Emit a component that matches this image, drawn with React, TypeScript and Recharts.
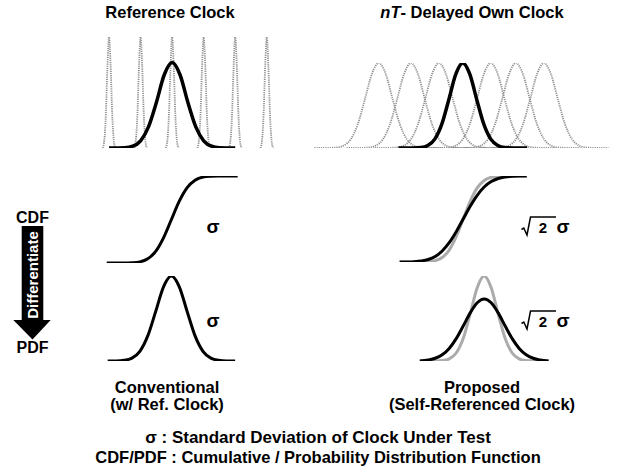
import React from 'react';
import { LineChart, Line, XAxis, YAxis } from 'recharts';

// ---------- data (time in clock periods, levels normalised) ----------
// Reference clock: very narrow edge distributions
const refEdges = [-2, -1, 0, 1, 2, 3];
const spikeOffsets = [-0.2, -0.15, -0.1, -0.05, 0, 0.05, 0.1, 0.15, 0.2];
const spikeLevels = [0, 0.07, 0.31, 0.74, 1, 0.74, 0.31, 0.07, 0];

// Clock under test edge distribution (top-left)
const cutOffsets = [-2, -1.5, -1.25, -1, -0.75, -0.5, -0.25, 0, 0.25, 0.5, 0.75, 1, 1.25, 1.5, 2];
const cutLevels = [0, 0.003, 0.016, 0.065, 0.19, 0.41, 0.66, 0.77, 0.66, 0.41, 0.19, 0.065, 0.016, 0.003, 0];

// nT-delayed own clock edges (top-right)
const ownEdges = [-3, -1.85, -0.85, 1, 1.9, 2.9];
const ownOffsets = [-2.3, -2, -1.5, -1.25, -1, -0.75, -0.5, -0.25, 0, 0.25, 0.5, 0.75, 1, 1.25, 1.5, 2, 2.3];
const ownLevels = [0, 0, 0.006, 0.029, 0.104, 0.28, 0.568, 0.868, 1, 0.868, 0.568, 0.28, 0.104, 0.029, 0.006, 0, 0];

// Conventional CDF / PDF
const convCdfT = [-2.05, -1.5, -1.25, -1, -0.75, -0.5, -0.25, 0, 0.25, 0.5, 0.75, 1, 1.25, 1.5, 2.1];
const convCdf = [0, 0, 0.003, 0.013, 0.048, 0.133, 0.289, 0.5, 0.711, 0.867, 0.952, 0.987, 0.997, 1, 1];
const convPdfT = [-2.02, -1.75, -1.5, -1.25, -1, -0.75, -0.5, -0.25, 0, 0.25, 0.5, 0.75, 1, 1.25, 1.5, 1.75, 2.02];
const convPdf = [0, 0.001, 0.008, 0.034, 0.114, 0.295, 0.581, 0.873, 1, 0.873, 0.581, 0.295, 0.114, 0.034, 0.008, 0.001, 0];

// Proposed CDF (black: sqrt2 sigma, gray: sigma)
const propCdfT = [-2.27, -2, -1.75, -1.5, -1.25, -1, -0.75, -0.5, -0.25, 0, 0.25, 0.5, 0.75, 1, 1.25, 1.5, 1.75, 2, 2.27];
const propCdfWide = [0, 0.001, 0.004, 0.012, 0.029, 0.065, 0.128, 0.224, 0.352, 0.5, 0.648, 0.776, 0.872, 0.935, 0.971, 0.988, 0.996, 0.999, 1];
const propCdfNarrow = [0, 0, 0, 0, 0.003, 0.015, 0.052, 0.139, 0.294, 0.5, 0.706, 0.861, 0.948, 0.985, 0.997, 1, 1, 1, 1];

// Proposed PDF
const propPdfT = [-2.3, -2, -1.75, -1.5, -1.25, -1, -0.75, -0.5, -0.25, 0, 0.25, 0.5, 0.75, 1, 1.25, 1.5, 1.75, 2, 2.3];
const propPdfWide = [0, 0.012, 0.032, 0.073, 0.148, 0.263, 0.411, 0.566, 0.685, 0.73, 0.685, 0.566, 0.411, 0.263, 0.148, 0.073, 0.032, 0.012, 0];
const propPdfNarrow = [0, 0, 0, 0.005, 0.025, 0.094, 0.265, 0.554, 0.863, 1, 0.863, 0.554, 0.265, 0.094, 0.025, 0.005, 0, 0, 0];

// ---------- helpers ----------
type Pt = { x: number; y: number };
const pts = (center: number, xs: number[], ys: number[]): Pt[] =>
  xs.map((v, i) => ({ x: center + v, y: ys[i] }));

const M = 6;
const FONT = '"Liberation Sans", Arial, Helvetica, sans-serif';

function Panel(props: {
  origin: number;
  unit: number;
  domain: [number, number];
  yTop: number;
  yBottom: number;
  children: React.ReactNode;
}) {
  const { origin, unit, domain, yTop, yBottom, children } = props;
  const left = origin + domain[0] * unit;
  const w = (domain[1] - domain[0]) * unit;
  const h = yBottom - yTop;
  return (
    <div style={{ position: 'absolute', left: left - M, top: yTop - M }}>
      <LineChart width={w + 2 * M} height={h + 2 * M} margin={{ top: M, right: M, bottom: M, left: M }}>
        <XAxis type="number" dataKey="x" domain={domain} hide allowDataOverflow />
        <YAxis type="number" domain={[0, 1]} hide allowDataOverflow />
        {children}
      </LineChart>
    </div>
  );
}

const line = (key: string, data: Pt[], stroke: string, width: number, dash?: string) => (
  <Line
    key={key}
    data={data}
    dataKey="y"
    type="monotone"
    stroke={stroke}
    strokeWidth={width}
    strokeDasharray={dash}
    strokeLinecap="butt"
    dot={false}
    activeDot={false}
    isAnimationActive={false}
    legendType="none"
  />
);

const GRAY_DOT = '#8f8f8f';
const GRAY = '#ababab';

function SqrtTwoSigma({ cy }: { cy: number }) {
  return (
    <g>
      <path
        d={`M521.5 ${cy + 1.5} L523.8 ${cy} L527 ${cy + 7} L530.5 ${cy - 11} L556 ${cy - 11}`}
        fill="none"
        stroke="#000"
        strokeWidth={1.5}
        strokeLinejoin="miter"
      />
      <text x={543} y={cy + 5} fontSize={15} textAnchor="middle">2</text>
      <text x={563} y={cy + 5} fontSize={19} textAnchor="middle">σ</text>
    </g>
  );
}

export default function App() {
  const leftUnit = 31.55;
  const leftOrigin = 171.7;
  const rightUnit = 28;
  const rightOrigin = 463;

  return (
    <div style={{ position: 'absolute', left: 0, top: 0, width: 622, height: 472, background: '#fff', overflow: 'hidden' }}>
      {/* Top-left: reference clock */}
      <Panel origin={leftOrigin} unit={leftUnit} domain={[-2.35, 3.35]} yTop={37} yBottom={148}>
        {refEdges.map((e, i) => line('ref' + i, pts(e, spikeOffsets, spikeLevels), GRAY_DOT, 1.8, '1.2 1'))}
        {line('cut', pts(0, cutOffsets, cutLevels), '#000', 3.5)}
      </Panel>

      {/* Top-right: nT-delayed own clock */}
      <Panel origin={rightOrigin} unit={rightUnit} domain={[-5.6, 5.5]} yTop={63} yBottom={148}>
        {ownEdges.map((e, i) => line('own' + i, pts(e, ownOffsets, ownLevels), GRAY_DOT, 1.8, '1.2 1'))}
        {line('ownMain', pts(0, ownOffsets, ownLevels), '#000', 3.5)}
      </Panel>

      {/* Conventional CDF */}
      <Panel origin={leftOrigin} unit={leftUnit} domain={[-2.2, 2.2]} yTop={176} yBottom={263}>
        {line('convCdf', pts(0, convCdfT, convCdf), '#000', 3)}
      </Panel>

      {/* Conventional PDF */}
      <Panel origin={leftOrigin} unit={leftUnit} domain={[-2.2, 2.2]} yTop={276} yBottom={361}>
        {line('convPdf', pts(0, convPdfT, convPdf), '#000', 3)}
      </Panel>

      {/* Proposed CDF */}
      <Panel origin={rightOrigin} unit={rightUnit} domain={[-2.4, 2.4]} yTop={176} yBottom={262}>
        {line('propCdfN', pts(0, propCdfT, propCdfNarrow), GRAY, 3)}
        {line('propCdfW', pts(0, propCdfT, propCdfWide), '#000', 3)}
      </Panel>

      {/* Proposed PDF */}
      <Panel origin={484} unit={rightUnit} domain={[-2.4, 2.4]} yTop={276} yBottom={361}>
        {line('propPdfN', pts(0, propPdfT, propPdfNarrow), GRAY, 3)}
        {line('propPdfW', pts(0, propPdfT, propPdfWide), '#000', 3)}
      </Panel>

      {/* Text and arrow overlay */}
      <svg width={622} height={472} style={{ position: 'absolute', left: 0, top: 0, pointerEvents: 'none' }}>
        <g fontFamily={FONT} fontWeight="bold" fill="#000">
          <text x={170} y={18} fontSize={16.5} textAnchor="middle">Reference Clock</text>
          <text x={472} y={18} fontSize={16.5} textAnchor="middle">
            <tspan fontStyle="italic">nT</tspan>- Delayed Own Clock
          </text>

          <text x={32.5} y={223} fontSize={16} textAnchor="middle">CDF</text>
          <rect x={21.7} y={226} width={21.6} height={95} fill="#000" />
          <polygon points="13.3,320 50.7,320 32.5,339.5" fill="#000" />
          <text
            x={32.5}
            y={275}
            fontSize={15}
            textAnchor="middle"
            dominantBaseline="central"
            fill="#fff"
            transform="rotate(-90 32.5 275)"
          >
            Differentiate
          </text>
          <text x={32.5} y={353} fontSize={16} textAnchor="middle">PDF</text>

          <text x={213} y={233} fontSize={19} textAnchor="middle">σ</text>
          <text x={213} y={327} fontSize={19} textAnchor="middle">σ</text>

          <SqrtTwoSigma cy={228} />
          <SqrtTwoSigma cy={322} />

          <text x={167} y={393} fontSize={16.5} textAnchor="middle">Conventional</text>
          <text x={167} y={410} fontSize={16.5} textAnchor="middle">(w/ Ref. Clock)</text>
          <text x={482} y={393} fontSize={16.5} textAnchor="middle">Proposed</text>
          <text x={482} y={410} fontSize={16.5} textAnchor="middle">(Self-Referenced Clock)</text>

          <text x={318} y={443} fontSize={17} textAnchor="middle">σ : Standard Deviation of Clock Under Test</text>
          <text x={318} y={463} fontSize={16.5} textAnchor="middle">CDF/PDF : Cumulative / Probability Distribution Function</text>
        </g>
      </svg>
    </div>
  );
}
